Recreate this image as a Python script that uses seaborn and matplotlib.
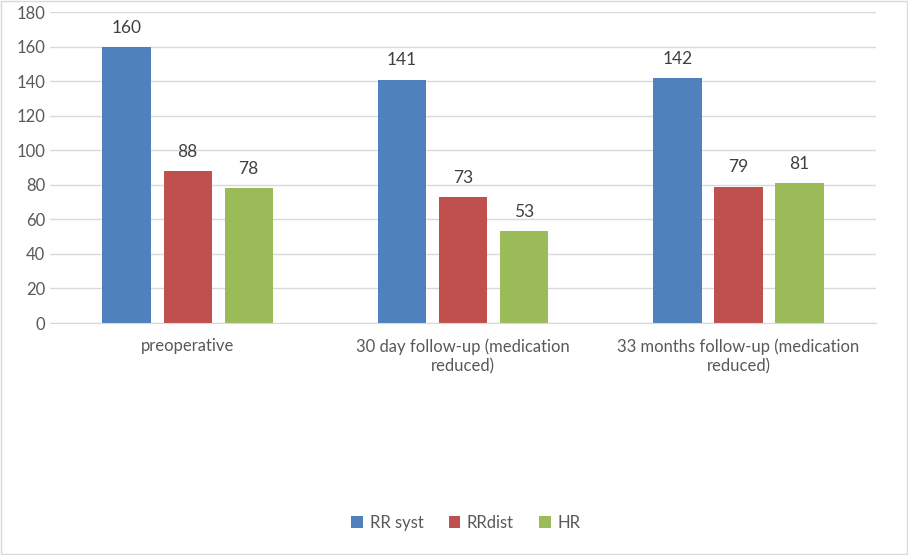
import matplotlib.pyplot as plt
import pandas as pd
import seaborn as sns
from matplotlib import ticker
from matplotlib.patches import Rectangle

categories = ['preoperative',
              '30 day follow-up (medication\nreduced)',
              '33 months follow-up (medication\nreduced)']
series = ['RR syst', 'RRdist', 'HR']
rr_syst = [160, 141, 142]
rr_dist = [88, 73, 79]
hr = [78, 53, 81]
colors = ['#4F81BD', '#C0504D', '#9BBB59']
grey = '#595959'

df = pd.DataFrame({
    'cat': categories * 3,
    'series': [s for s in series for _ in categories],
    'value': rr_syst + rr_dist + hr,
})

sns.set_style('white')
plt.rcParams['font.family'] = ['Lato', 'DejaVu Sans']

fig = plt.figure(figsize=(9.08, 5.55), dpi=100)
ax = fig.add_axes([0.055, 0.418, 0.91, 0.56])
sns.barplot(data=df, x='cat', y='value', hue='series', palette=colors,
            saturation=1, width=0.665, gap=0.21, ax=ax, legend=True,
            linewidth=0)

for cont in ax.containers:
    ax.bar_label(cont, padding=8, fontsize=12.5, color='#404040')

ax.set(xlabel='', ylabel='', ylim=(0, 180), xlim=(-0.5, 2.5))
ax.yaxis.set_major_locator(ticker.MultipleLocator(20))
ax.grid(axis='y', color='#D9D9D9', lw=1)
ax.set_axisbelow(True)
for s in ['left', 'right', 'top']:
    ax.spines[s].set_visible(False)
ax.spines['bottom'].set_color('#D9D9D9')
ax.tick_params(axis='both', length=0, labelsize=12, colors=grey)
ax.tick_params(axis='x', pad=11)
for lab in ax.get_xticklabels():
    lab.set_linespacing(1.3)

leg = ax.legend(loc='center', bbox_to_anchor=(0.513, 0.0575),
                bbox_transform=fig.transFigure, ncol=3, frameon=False,
                fontsize=12, handlelength=0.7, handleheight=0.7,
                columnspacing=1.5, handletextpad=0.4)
for t in leg.get_texts():
    t.set_color(grey)

fig.patches.append(Rectangle((0.001, 0.001), 0.998, 0.998, fill=False,
                             edgecolor='#D9D9D9', lw=1,
                             transform=fig.transFigure))
fig.savefig('out.png', dpi=100)
